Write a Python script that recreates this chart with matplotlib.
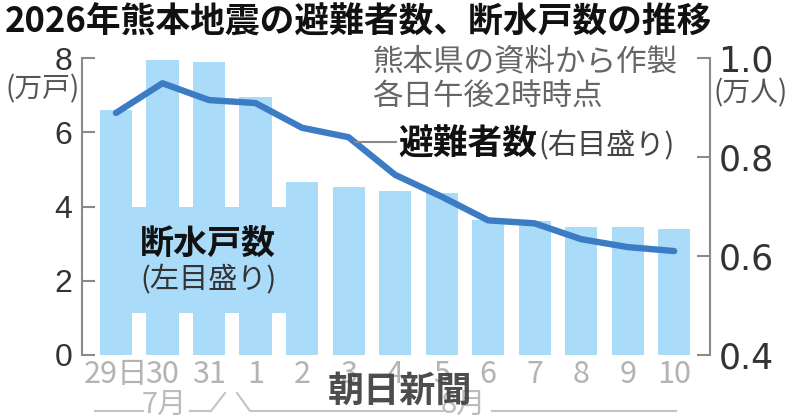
import matplotlib
matplotlib.use("Agg")
import matplotlib.pyplot as plt
from matplotlib.patches import Rectangle
from matplotlib.lines import Line2D

plt.rcParams['font.family'] = ['Noto Sans CJK JP', 'DejaVu Sans']

# ---- data ----
days = ['29日', '30', '31', '1', '2', '3', '4', '5', '6', '7', '8', '9', '10']
outages = [6.6, 7.95, 7.9, 6.95, 4.65, 4.52, 4.43, 4.37, 3.64, 3.6, 3.45, 3.45, 3.4]   # 万戸
evacuees = [0.889, 0.949, 0.915, 0.909, 0.859, 0.84, 0.764, 0.72, 0.672, 0.666, 0.634, 0.618, 0.61]  # 万人
left_ticks = [0, 2, 4, 6, 8]
right_ticks = [0.4, 0.6, 0.8, 1.0]

BAR = '#aadcfa'
LINE = '#3b7cc5'
GRAY = '#8a8a8a'

W, H = 800, 417
fig = plt.figure(figsize=(W / 100, H / 100), dpi=100)


def P(x, y):
    return x / W, 1 - y / H


ax = fig.add_axes([82 / W, 1 - 355 / H, 628 / W, 297 / H])
x = list(range(len(days)))
ax.bar(x, outages, width=0.69, color=BAR, zorder=2)
ax.set_xlim(-0.73, 12.77)
ax.set_ylim(0, 8)
ax.set_yticks(left_ticks)
ax.set_yticklabels([str(t) for t in left_ticks], family=['Liberation Sans', 'DejaVu Sans'])
ax.set_xticks(x)
ax.set_xticklabels(days, family=['Liberation Sans Narrow', 'Noto Sans CJK JP'])
for s in ['top', 'right', 'bottom']:
    ax.spines[s].set_visible(False)
ax.spines['left'].set_color(GRAY)
ax.spines['left'].set_linewidth(1.5)
ax.tick_params(axis='y', direction='in', length=9.5, width=1.5, color=GRAY,
               pad=7, labelsize=23, labelcolor='#333333')
ax.tick_params(axis='x', length=0, pad=3, labelsize=22, labelcolor='#b3b3b3')

# label box behind "断水戸数"
ax.add_patch(Rectangle((-0.345, 1.13), 4.69, 2.87, color=BAR, zorder=2, lw=0))

ax2 = ax.twinx()
ax2.plot(x, evacuees, color=LINE, lw=4.6, solid_capstyle='round',
         solid_joinstyle='round', zorder=3)
ax2.set_ylim(0.4, 1.0)
ax2.set_yticks(right_ticks)
ax2.set_yticklabels(['0.4', '0.6', '0.8', '1.0'], family=['Liberation Sans Narrow', 'DejaVu Sans'])
for s in ['top', 'left', 'bottom']:
    ax2.spines[s].set_visible(False)
ax2.spines['right'].set_color(GRAY)
ax2.spines['right'].set_linewidth(1.5)
ax2.tick_params(axis='y', direction='in', length=9.5, width=1.5, color=GRAY,
                pad=6, labelsize=25, labelcolor='#333333')
ax2.set_xlim(-0.73, 12.77)

# ---- texts ----
fig.text(*P(5, 22), '2026年熊本地震の避難者数、断水戸数の推移', fontsize=25,
         fontweight='bold', color='#111111', ha='left', va='center')
fig.text(*P(372, 62), '熊本県の資料から作製', fontsize=22, color='#666666',
         ha='left', va='center')
fig.text(*P(372, 96), '各日午後2時時点', fontsize=22, color='#666666',
         ha='left', va='center')
fig.add_artist(Line2D([355 / W, 396 / W], [1 - 142 / H, 1 - 142 / H],
                      transform=fig.transFigure, color=GRAY, lw=1.5))
fig.text(*P(398, 144), '避難者数', fontsize=25, fontweight='bold', color='#111111',
         ha='left', va='center')
fig.text(*P(538, 146), '(右目盛り)', fontsize=21, color='#444444',
         ha='left', va='center')
fig.text(*P(140, 243), '断水戸数', fontsize=24.5, fontweight='bold', color='#111111',
         ha='left', va='center', zorder=5)
fig.text(*P(140, 280), '(左目盛り)', fontsize=21, color='#333333',
         ha='left', va='center', zorder=5)
fig.text(*P(43, 89), '(万戸)', fontsize=20, color='#555555', ha='center', va='center')
fig.text(*P(751, 93), '(万人)', fontsize=20, color='#555555', ha='center', va='center')

# month brackets
LG = '#c4c4c4'
segs = [
    ([95, 143], [411, 411]),
    ([190, 211, 225], [411, 411, 393]),
    ([237, 250, 443], [393, 411, 411]),
    ([492, 676], [411, 411]),
]
for xs, ys in segs:
    fig.add_artist(Line2D([v / W for v in xs], [1 - v / H for v in ys],
                          transform=fig.transFigure, color=LG, lw=1.5))
fig.text(*P(164, 405), '7月', fontsize=21, color='#bbbbbb', ha='center', va='center')
fig.text(*P(463, 405), '8月', fontsize=21, color='#bbbbbb', ha='center', va='center')

# watermark
fig.text(*P(400, 391), '朝日新聞', fontsize=26, fontweight='bold', color='#3a3a3a',
         ha='center', va='center', alpha=0.9)

fig.savefig('out.png', dpi=100)
